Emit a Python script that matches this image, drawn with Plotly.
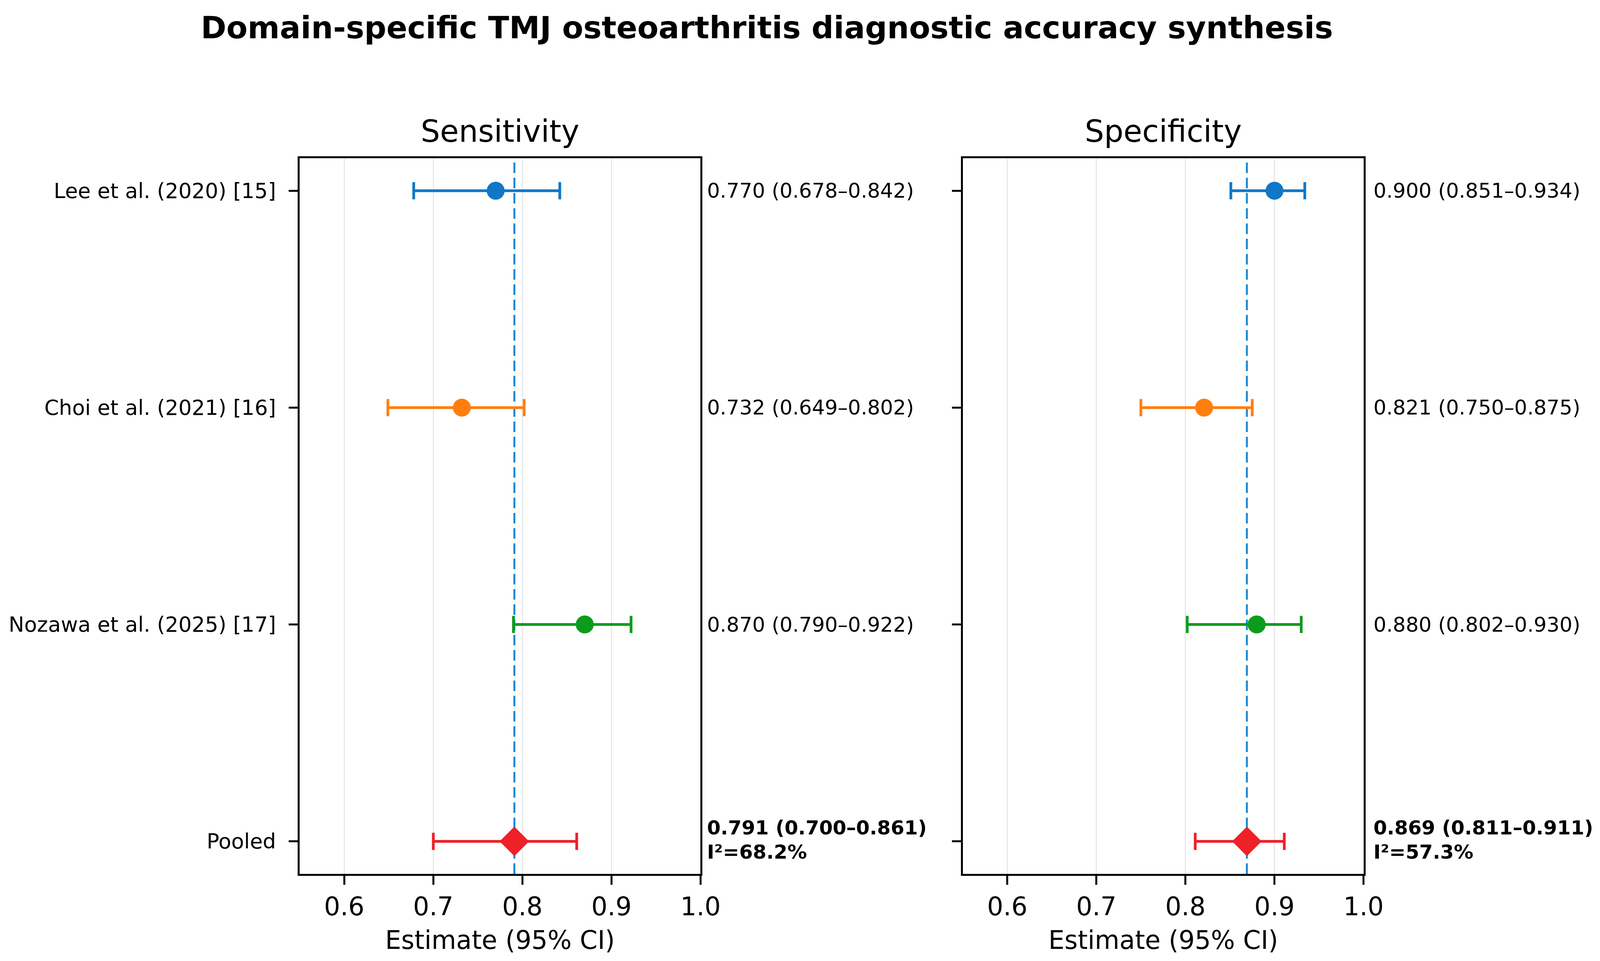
import plotly.graph_objects as go
from plotly.subplots import make_subplots

# forest plot data
studies = ["Lee et al. (2020) [15]", "Choi et al. (2021) [16]",
           "Nozawa et al. (2025) [17]", "Pooled"]
colors = ["#1177c6", "#ff7f0e", "#0c9c1c", "#ee2028"]

sens = [0.770, 0.732, 0.870, 0.791]
sens_lo = [0.678, 0.649, 0.790, 0.700]
sens_hi = [0.842, 0.802, 0.922, 0.861]

spec = [0.900, 0.821, 0.880, 0.869]
spec_lo = [0.851, 0.750, 0.802, 0.811]
spec_hi = [0.934, 0.875, 0.930, 0.911]

i2 = [68.2, 57.3]
panels = ["Sensitivity", "Specificity"]
x_ticks = [0.6, 0.7, 0.8, 0.9, 1.0]

font = "DejaVu Sans"

fig = make_subplots(rows=1, cols=2)

domains = [[0.1855, 0.4362], [0.6002, 0.8509]]
text_x = [1.014, 1.023]

for p, (est, lo, hi) in enumerate([(sens, sens_lo, sens_hi), (spec, spec_lo, spec_hi)]):
    col = p + 1
    xr = "x" if p == 0 else "x2"
    yr = "y" if p == 0 else "y2"
    for i, name in enumerate(studies):
        pooled = name == "Pooled"
        fig.add_trace(go.Scatter(
            x=[est[i]], y=[name], mode="markers",
            marker=dict(symbol="diamond" if pooled else "circle",
                        size=58 if pooled else 46, color=colors[i], line=dict(width=0)),
            error_x=dict(type="data", symmetric=False,
                         array=[hi[i] - est[i]], arrayminus=[est[i] - lo[i]],
                         color=colors[i], thickness=7, width=22),
            showlegend=False, hoverinfo="skip"), row=1, col=col)

        if pooled:
            # two bold lines, estimate on top and heterogeneity below
            for txt, shift in [(f"<b>{est[i]:.3f} ({lo[i]:.3f}–{hi[i]:.3f})</b>", 35),
                               (f"<b>I²={i2[p]:.1f}%</b>", -27)]:
                fig.add_annotation(x=text_x[p], y=name, xref=xr + " domain", yref=yr,
                                   text=txt, showarrow=False, xanchor="left", yanchor="middle",
                                   yshift=shift,
                                   font=dict(family=font, size=50, color="black"))
        else:
            fig.add_annotation(x=text_x[p], y=name, xref=xr + " domain", yref=yr,
                               text=f"{est[i]:.3f} ({lo[i]:.3f}–{hi[i]:.3f})",
                               showarrow=False, xanchor="left", yanchor="middle",
                               font=dict(family=font, size=52, color="black"))

    # pooled estimate reference line
    fig.add_shape(type="line", x0=est[3], x1=est[3], y0=0, y1=1,
                  xref=xr, yref=yr + " domain",
                  line=dict(color="#1a88d8", width=5, dash="27px,12px"), layer="below")

    # panel title and x axis title
    mid = sum(domains[p]) / 2
    fig.add_annotation(x=mid, y=0.8667, xref="paper", yref="paper",
                       text=panels[p], showarrow=False, xanchor="center", yanchor="middle",
                       font=dict(family=font, size=78, color="black"))
    fig.add_annotation(x=mid, y=0.0248, xref="paper", yref="paper",
                       text="Estimate (95% CI)", showarrow=False,
                       xanchor="center", yanchor="middle",
                       font=dict(family=font, size=65, color="black"))

    fig.update_xaxes(domain=domains[p], range=[0.55, 1.0], tickvals=x_ticks,
                     ticktext=[f"{t:.1f}" for t in x_ticks],
                     showgrid=True, gridcolor="#e8e8e8", gridwidth=3,
                     showline=True, linecolor="black", linewidth=5, mirror=True,
                     ticks="outside", ticklen=23, tickwidth=5, tickcolor="black",
                     tickfont=dict(family=font, size=65, color="black"),
                     zeroline=False, row=1, col=col)
    fig.update_yaxes(domain=[0.0939, 0.8386], type="category",
                     categoryorder="array", categoryarray=studies,
                     range=[3.15, -0.15], showgrid=False,
                     showline=True, linecolor="black", linewidth=5, mirror=True,
                     ticks="outside", ticklen=23, tickwidth=5, tickcolor="black",
                     showticklabels=(p == 0), ticklabelstandoff=22,
                     tickfont=dict(family=font, size=53.5, color="black"),
                     zeroline=False, row=1, col=col)

fig.add_annotation(x=0.4777, y=0.9742, xref="paper", yref="paper",
                   text="<b>Domain-specific TMJ osteoarthritis diagnostic accuracy synthesis</b>",
                   showarrow=False, xanchor="center", yanchor="middle",
                   font=dict(family=font, size=79, color="black"))

fig.update_layout(width=4145, height=2460, margin=dict(l=0, r=0, t=0, b=0),
                  plot_bgcolor="white", paper_bgcolor="white")

fig.write_html("out.html")
